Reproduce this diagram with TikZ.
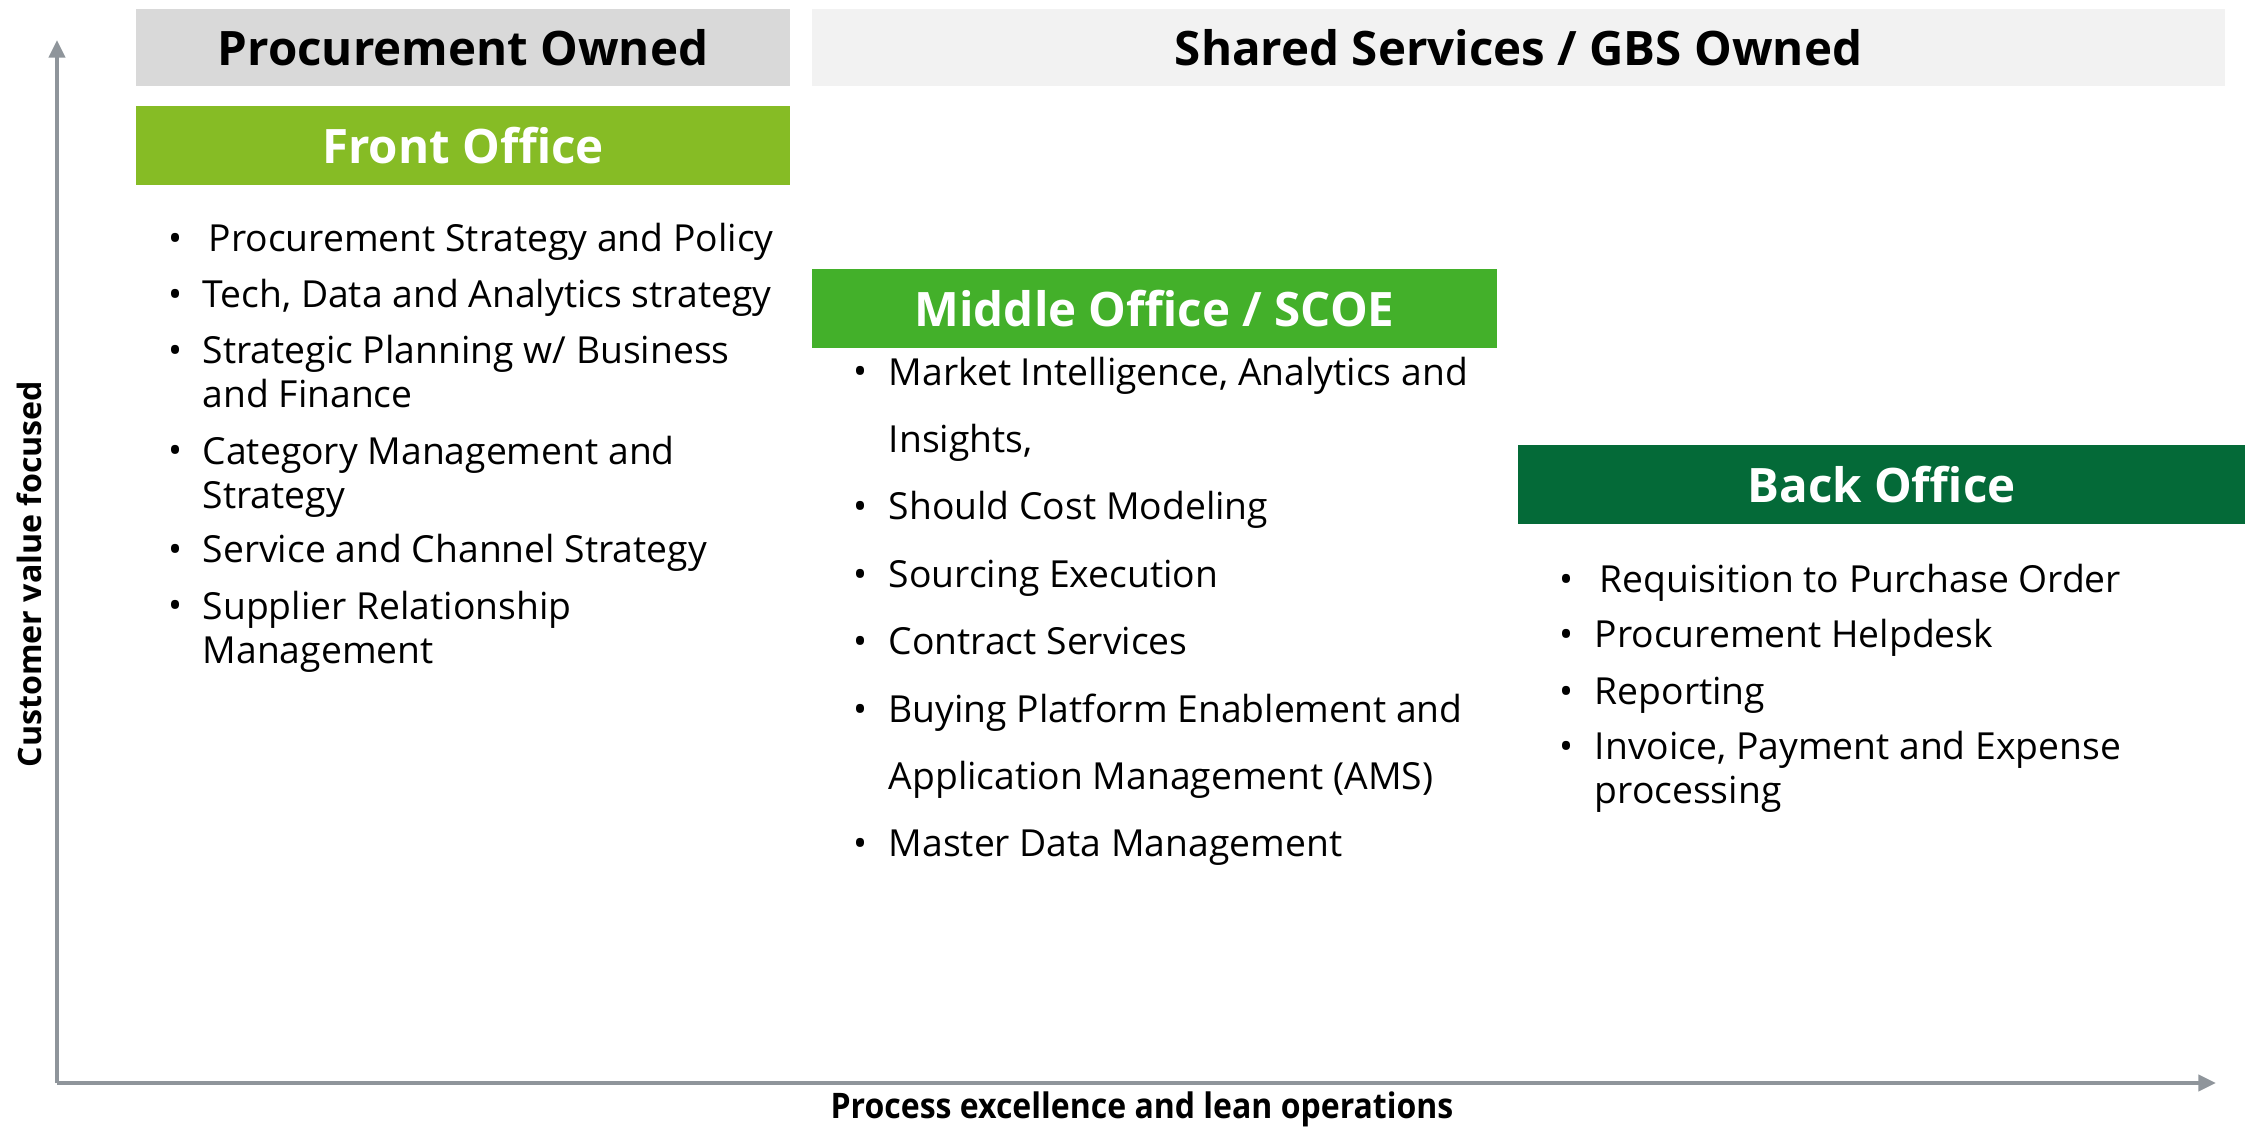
\documentclass[tikz,border=0pt]{standalone}
\usepackage{fontspec}
\setmainfont{Open Sans}
\usetikzlibrary{arrows.meta}

\definecolor{ownA}{HTML}{D9D9D9}
\definecolor{ownB}{HTML}{F2F2F2}
\definecolor{frontgreen}{HTML}{86BC25}
\definecolor{middlegreen}{HTML}{43B02A}
\definecolor{backgreen}{HTML}{046A38}
\definecolor{axisgray}{HTML}{8F959B}

\newcommand\hdfont{\fontsize{13.5}{16}\selectfont\bfseries}
\newcommand\txfont{\fontsize{10.6}{12.5}\selectfont}

\tikzset{
  owner/.style={shape=rectangle, inner sep=0pt, minimum height=0.77cm, font=\hdfont, text=black},
  office/.style={shape=rectangle, inner sep=0pt, minimum height=0.78cm, font=\hdfont, text=white},
  item/.style={anchor=base west, inner sep=0pt, align=left, font=\txfont},
  mitem/.style={item, font=\fontsize{10.6}{19}\selectfont},
  bul/.style={anchor=base west, inner sep=0pt, font=\txfont},
  axis/.style={draw=axisgray, line width=1.2pt, -{Triangle[length=5pt, width=4.5pt]}},
  axislabel/.style={inner sep=0pt, font=\fontsize{9.15}{11}\selectfont\bfseries}
}

\begin{document}
\begin{tikzpicture}[x=0.01cm, y=-0.01cm]

	% Canvas:
	\useasboundingbox (0,0) rectangle (2249,1126);

	% Ownership bars and office headers:
	\node[owner, fill=ownA, minimum width=6.54cm](own1) at (463, 47.5){Procurement Owned};
	\node[owner, fill=ownB, minimum width=14.13cm](own2) at (1518.5, 47.5){Shared Services / GBS Owned};
	\node[office, fill=frontgreen, minimum width=6.54cm](front) at (463, 145.5){Front Office};
	\node[office, fill=middlegreen, minimum width=6.85cm](middle) at (1154.5, 308.5){Middle Office / SCOE};
	\node[office, fill=backgreen, minimum width=7.27cm](back) at (1881.5, 484.5){Back Office};

	% Front office items (wrapped items sit on their last line):
	\node[bul] at (168, 251){\textbullet};
	\node[item](f1) at (208, 251){Procurement Strategy and Policy};
	\node[bul] at (168, 307){\textbullet};
	\node[item](f2) at (202, 307){Tech, Data and Analytics strategy};
	\node[bul] at (168, 363){\textbullet};
	\node[item](f3) at (202, 407){Strategic Planning w/ Business\\and Finance};
	\node[bul] at (168, 463){\textbullet};
	\node[item](f4) at (202, 508){Category Management and\\Strategy};
	\node[bul] at (168, 562){\textbullet};
	\node[item](f5) at (202, 562){Service and Channel Strategy};
	\node[bul] at (168, 618){\textbullet};
	\node[item](f6) at (202, 663){Supplier Relationship\\Management};

	% Middle office items:
	\node[bul] at (853, 384){\textbullet};
	\node[mitem](m1) at (888, 452){Market Intelligence, Analytics and\\Insights,};
	\node[bul] at (853, 519){\textbullet};
	\node[mitem](m2) at (888, 519){Should Cost Modeling};
	\node[bul] at (853, 587){\textbullet};
	\node[mitem](m3) at (888, 587){Sourcing Execution};
	\node[bul] at (853, 654){\textbullet};
	\node[mitem](m4) at (888, 654){Contract Services};
	\node[bul] at (853, 722){\textbullet};
	\node[mitem](m5) at (888, 789){Buying Platform Enablement and\\Application Management (AMS)};
	\node[bul] at (853, 856){\textbullet};
	\node[mitem](m6) at (888, 856){Master Data Management};

	% Back office items:
	\node[bul] at (1559, 592){\textbullet};
	\node[item](b1) at (1599, 592){Requisition to Purchase Order};
	\node[bul] at (1559, 647){\textbullet};
	\node[item](b2) at (1594, 647){Procurement Helpdesk};
	\node[bul] at (1559, 704){\textbullet};
	\node[item](b3) at (1594, 704){Reporting};
	\node[bul] at (1559, 759){\textbullet};
	\node[item](b4) at (1594, 803){Invoice, Payment and Expense\\processing};

	% Axes:
	\coordinate (O) at (57, 1083);
	\coordinate (ytip) at (57, 40);
	\coordinate (xtip) at (2216, 1083);
	\draw[axis] (O) -- (ytip);
	\draw[axis] (O) -- (xtip);
	\node[axislabel, font=\fontsize{10}{12}\selectfont\bfseries](xlab) at (1142, 1109){\scalebox{0.91}[1]{Process excellence and lean operations}};
	\node[axislabel, rotate=90](ylab) at (29, 574){Customer value focused};

\end{tikzpicture}
\end{document}
